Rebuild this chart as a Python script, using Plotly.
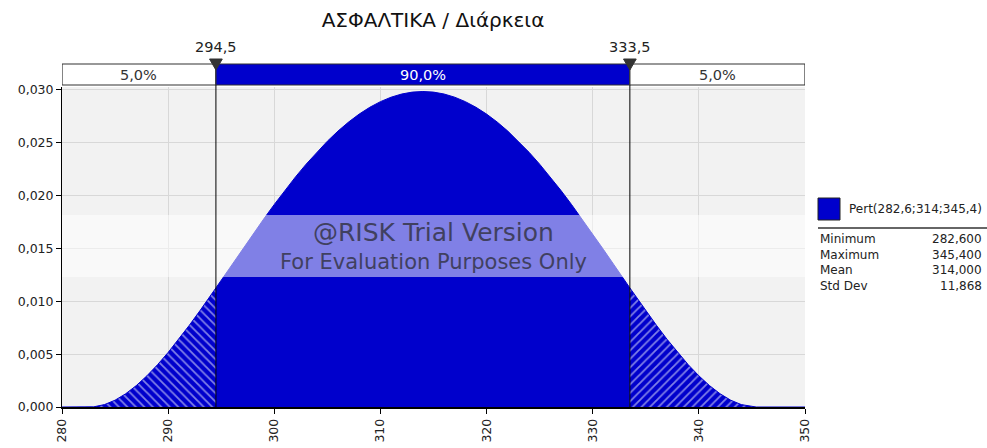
import plotly.graph_objects as go

# ---- data ----
x_vals = [280, 282.6, 283, 284, 285, 286, 287, 288, 289, 290, 291, 292, 293, 294, 294.5,
          295, 296, 297, 298, 299, 300, 301, 302, 303, 304, 305, 306, 307, 308, 309, 310,
          311, 312, 313, 314, 315, 316, 317, 318, 319, 320, 321, 322, 323, 324, 325, 326,
          327, 328, 329, 330, 331, 332, 333, 333.5, 334, 335, 336, 337, 338, 339, 340,
          341, 342, 343, 344, 345, 345.4, 350]
density = [0, 0, 0.000019, 0.000227, 0.000645, 0.001253, 0.002028, 0.002951, 0.004002,
           0.005162, 0.006413, 0.007739, 0.009121, 0.010546, 0.011268,
           0.011996, 0.013458, 0.014919, 0.016366, 0.017785, 0.019166, 0.020499, 0.021773,
           0.022978, 0.024108, 0.025153, 0.026107, 0.026963, 0.027717, 0.028362, 0.028896,
           0.029314, 0.029615, 0.029796, 0.029857, 0.029796, 0.029615, 0.029314, 0.028896,
           0.028362, 0.027717, 0.026963, 0.026107, 0.025153, 0.024108, 0.022978, 0.021773,
           0.020499, 0.019166, 0.017785, 0.016366, 0.014919, 0.013458, 0.011996, 0.011268,
           0.010546, 0.009121, 0.007739, 0.006413, 0.005162, 0.004002, 0.002951,
           0.002028, 0.001253, 0.000645, 0.000227, 0.000019, 0, 0]

left_cut = 294.5
right_cut = 333.5
pct_left, pct_mid, pct_right = 5.0, 90.0, 5.0
x_ticks = [280, 290, 300, 310, 320, 330, 340, 350]
y_ticks = [0.000, 0.005, 0.010, 0.015, 0.020, 0.025, 0.030]

title = "ΑΣΦΑΛΤΙΚΑ / Διάρκεια"
legend_label = "Pert(282,6;314;345,4)"
stat_names = ["Minimum", "Maximum", "Mean", "Std Dev"]
stat_values = [282.600, 345.400, 314.000, 11.868]

BLUE = "#0000cc"
FONT = "DejaVu Sans"
TXT = "#222222"
X0, X1 = 280, 350
Y_TOP = 0.03028

W, H = 987, 448
ML, MT, PW, PH = 62, 87, 743, 320


def px_x(p):  # page pixel -> paper x
    return (p - ML) / PW


def px_y(p):  # page pixel -> paper y
    return (MT + PH - p) / PH


def fmt(v, d):
    return f"{v:.{d}f}".replace(".", ",")


def seg(lo, hi):
    xs = [x for x in x_vals if lo <= x <= hi]
    ys = [y for x, y in zip(x_vals, density) if lo <= x <= hi]
    return xs, ys


fig = go.Figure()

lx, ly = seg(X0, left_cut)
mx, my = seg(left_cut, right_cut)
rx, ry = seg(right_cut, X1)

fig.add_trace(go.Scatter(x=lx, y=ly, mode="lines", line=dict(color=BLUE, width=1),
                         fill="tozeroy", fillcolor=BLUE,
                         fillpattern=dict(shape="\\", bgcolor=BLUE, fgcolor="white",
                                          size=6, solidity=0.3),
                         hoverinfo="skip", showlegend=False))
fig.add_trace(go.Scatter(x=mx, y=my, mode="lines", line=dict(color=BLUE, width=1),
                         fill="tozeroy", fillcolor=BLUE,
                         hoverinfo="skip", showlegend=False))
fig.add_trace(go.Scatter(x=rx, y=ry, mode="lines", line=dict(color=BLUE, width=1),
                         fill="tozeroy", fillcolor=BLUE,
                         fillpattern=dict(shape="/", bgcolor=BLUE, fgcolor="white",
                                          size=6, solidity=0.3),
                         hoverinfo="skip", showlegend=False))

shapes = []
annotations = []

# watermark band
shapes.append(dict(type="rect", xref="paper", yref="paper", x0=0, x1=1,
                   y0=px_y(277), y1=px_y(215),
                   fillcolor="rgba(255,255,255,0.5)", line=dict(width=0), layer="above"))
annotations.append(dict(text="@RISK Trial Version", xref="paper", yref="paper", x=0.5,
                        y=px_y(232), yanchor="middle", showarrow=False,
                        font=dict(family=FONT, size=25, color="#404060")))
annotations.append(dict(text="For Evaluation Purposes Only", xref="paper", yref="paper",
                        x=0.5, y=px_y(262), yanchor="middle", showarrow=False,
                        font=dict(family=FONT, size=21, color="#404060")))

# cut lines
for c in (left_cut, right_cut):
    shapes.append(dict(type="line", xref="x", yref="paper", x0=c, x1=c, y0=0, y1=px_y(66),
                       line=dict(color="black", width=1), layer="above"))

# top percentage bar
B0, B1 = px_y(85), px_y(64)
segments = [(X0, left_cut, "white", pct_left, "#333333"),
            (left_cut, right_cut, BLUE, pct_mid, "white"),
            (right_cut, X1, "white", pct_right, "#333333")]
for a, b, col, p, tcol in segments:
    shapes.append(dict(type="rect", xref="x", yref="paper", x0=a, x1=b, y0=B0, y1=B1,
                       fillcolor=col, line=dict(color="#333333", width=1.2), layer="above"))
    annotations.append(dict(text=fmt(p, 1) + "%", xref="x", yref="paper", x=(a + b) / 2,
                            y=(B0 + B1) / 2, yanchor="middle", showarrow=False,
                            font=dict(family=FONT, size=14.5, color=tcol)))

for c in (left_cut, right_cut):
    shapes.append(dict(type="path", xref="x", yref="paper",
                       path=f"M {c-0.6},{px_y(59)} L {c+0.6},{px_y(59)} L {c},{px_y(70)} Z",
                       fillcolor="#333333", line=dict(color="#333333", width=1), layer="above"))
    annotations.append(dict(text=fmt(c, 1), xref="x", yref="paper", x=c, y=px_y(47),
                            yanchor="middle", showarrow=False,
                            font=dict(family=FONT, size=14.5, color=TXT)))

# legend box
LX0, LX1 = px_x(818), px_x(840)
shapes.append(dict(type="rect", xref="paper", yref="paper", x0=LX0, x1=LX1, y0=px_y(220),
                   y1=px_y(198), fillcolor=BLUE, line=dict(color="#222222", width=1)))
annotations.append(dict(text=legend_label, xref="paper", yref="paper", x=px_x(847),
                        y=px_y(209), xanchor="left", yanchor="middle", showarrow=False,
                        font=dict(family=FONT, size=12, color=TXT)))
shapes.append(dict(type="line", xref="paper", yref="paper", x0=LX0, x1=px_x(987),
                   y0=px_y(228), y1=px_y(228), line=dict(color="#666666", width=2)))
rows_y = [239, 255, 270, 286]
for name, val, yy in zip(stat_names, stat_values, rows_y):
    annotations.append(dict(text=name, xref="paper", yref="paper", x=LX0, y=px_y(yy),
                            xanchor="left", yanchor="middle", showarrow=False,
                            font=dict(family=FONT, size=12, color=TXT)))
    annotations.append(dict(text=fmt(val, 3), xref="paper", yref="paper",
                            x=px_x(984), y=px_y(yy), xanchor="right", yanchor="middle",
                            showarrow=False, font=dict(family=FONT, size=12, color=TXT)))

fig.update_layout(
    width=W, height=H,
    margin=dict(l=ML, r=W - ML - PW, t=MT, b=H - MT - PH, autoexpand=False),
    paper_bgcolor="white", plot_bgcolor="#f2f2f2",
    separators=",.",
    title=dict(text=title, x=433 / W, xanchor="center", y=1 - 20 / H,
               yanchor="middle", font=dict(family=FONT, size=20, color="#111111")),
    xaxis=dict(range=[X0, X1], tickvals=x_ticks, ticktext=[str(v) for v in x_ticks],
               tickangle=-90, showgrid=True, gridcolor="#d8d8d8", gridwidth=1,
               showline=True, linecolor="black", linewidth=1.5, ticks="outside",
               ticklen=5, tickcolor="black", zeroline=False, automargin=False,
               tickfont=dict(family=FONT, size=12.5, color=TXT)),
    yaxis=dict(range=[0, Y_TOP], tickvals=y_ticks, tickformat=".3f", showgrid=True,
               gridcolor="#d8d8d8", gridwidth=1, showline=True, linecolor="black",
               linewidth=1, ticks="outside", ticklen=5, tickcolor="black", zeroline=False,
               automargin=False, tickfont=dict(family=FONT, size=12.5, color=TXT)),
    shapes=shapes, annotations=annotations,
)

fig.write_html(
    "out.html",
    config={"displayModeBar": False},
    post_script="document.body.style.margin='0';document.body.style.overflow='hidden';",
)
